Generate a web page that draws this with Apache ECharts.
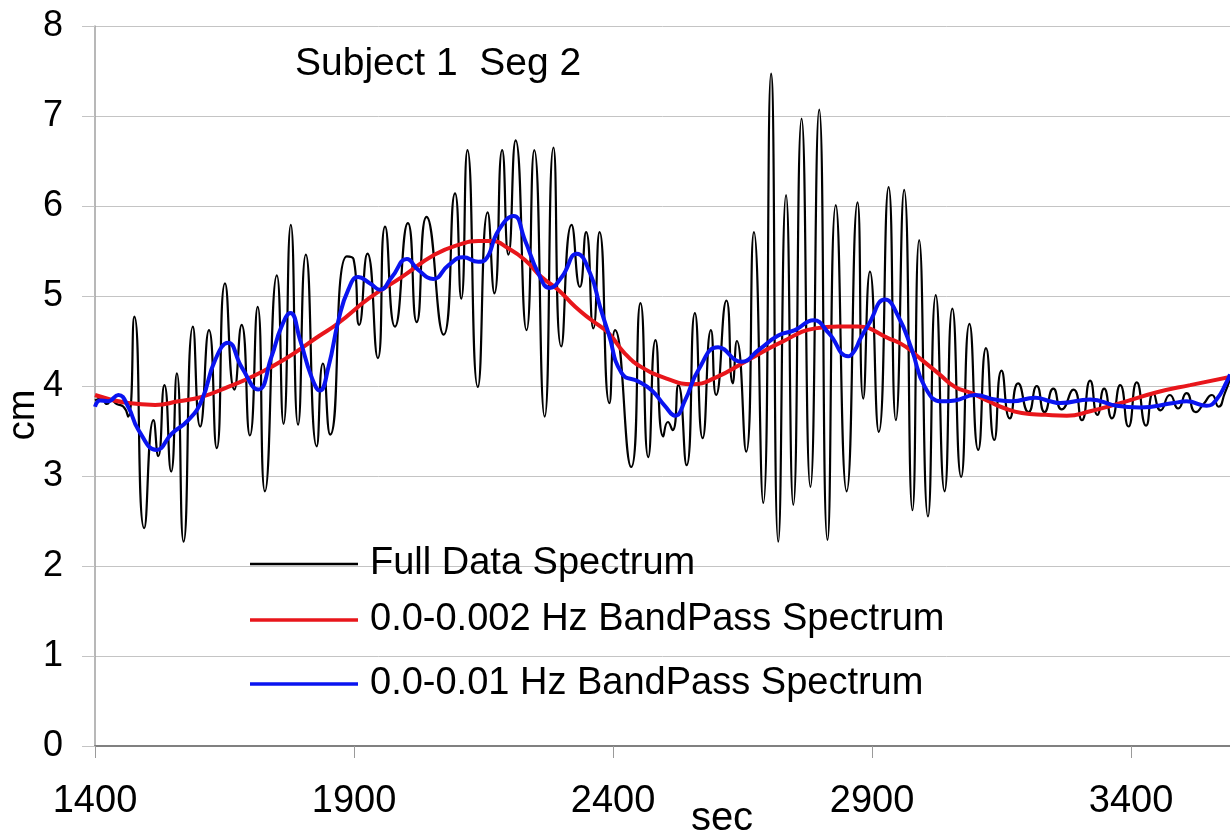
<!DOCTYPE html>
<html>
<head>
<meta charset="utf-8">
<script src="https://cdn.jsdelivr.net/npm/echarts@6/dist/echarts.min.js"></script>
<style>
  html, body { margin: 0; padding: 0; background: #fff; }
  #chart { width: 1230px; height: 832px; }
</style>
</head>
<body>
<div id="chart"></div>
<script>
// ---- Data ----
var titleText = 'Subject 1  Seg 2';
var xTickValues = [1400, 1900, 2400, 2900, 3400];
var yTickValues = [0, 1, 2, 3, 4, 5, 6, 7, 8];
var seriesNames = ['Full Data Spectrum', '0.0-0.002 Hz BandPass Spectrum', '0.0-0.01 Hz BandPass Spectrum'];

var fullSec = [1400,1413,1423,1432,1442,1455,1464,1476,1495,1513,1522,1534,1547,1558,1571,1589,1603,1620,1635,1651,
  1669,1683,1699,1714,1728,1751,1764,1778,1792,1807,1828,1840,1854,1886,1899,1910,1926,1946,1960,1979,
  2004,2021,2040,2073,2095,2107,2119,2139,2158,2171,2186,2198,2212,2233,2248,2268,2285,2300,2320,2336,
  2348,2362,2374,2393,2404,2435,2453,2468,2482,2497,2506,2515,2526,2542,2558,2573,2589,2599,2619,2631,
  2639,2657,2672,2690,2705,2719,2734,2748,2764,2781,2798,2814,2830,2851,2872,2883,2896,2913,2932,2946,
  2962,2978,2991,3008,3023,3040,3055,3072,3088,3105,3120,3136,3150,3166,3182,3202,3218,3233,3250,3266,
  3289,3305,3321,3335,3348,3363,3379,3395,3411,3429,3443,3457,3475,3491,3507,3525,3540,3556,3569,3581,3591];
var fullCm = [3.84,3.86,3.80,3.84,3.80,3.77,3.66,4.77,2.42,3.62,3.22,4.01,3.05,4.14,2.27,4.66,3.55,4.62,3.31,5.14,
  3.96,4.68,3.45,4.88,2.83,5.23,3.58,5.79,3.57,5.46,3.33,4.25,3.46,5.44,5.41,4.68,5.47,4.31,5.77,4.66,
  5.81,4.71,5.88,4.57,6.14,4.97,6.62,3.99,5.93,5.03,6.62,5.46,6.73,4.62,6.62,3.66,6.65,4.44,5.79,5.10,
  5.71,4.64,5.71,3.81,4.62,3.10,4.92,3.21,4.51,3.44,3.60,3.51,4.01,3.12,4.81,3.42,4.62,3.90,4.95,4.03,
  4.50,3.27,5.71,2.70,7.47,2.27,6.12,2.68,6.97,2.88,7.07,2.29,6.01,2.83,6.04,3.86,5.27,3.49,6.21,3.62,
  6.18,2.62,5.62,2.55,5.01,2.83,4.86,2.99,4.69,3.29,4.42,3.40,4.17,3.64,4.03,3.71,4.00,3.71,3.97,3.74,
  3.96,3.62,4.06,3.68,3.97,3.64,4.01,3.55,4.04,3.56,3.92,3.73,3.90,3.75,3.92,3.71,3.80,3.90,3.77,3.92,4.08];

var lowSec = [1400,1464,1516,1561,1606,1657,1709,1767,1831,1870,1928,1992,2056,2108,2140,2166,2198,2230,2262,2294,
  2327,2359,2391,2423,2455,2505,2552,2597,2661,2726,2790,2835,2872,2932,2964,2996,3028,3060,3092,3125,
  3157,3189,3235,3276,3321,3379,3450,3514,3591];
var lowCm = [3.90,3.81,3.79,3.83,3.88,3.99,4.12,4.30,4.55,4.70,4.97,5.21,5.46,5.58,5.61,5.61,5.53,5.40,5.21,5.07,
  4.88,4.73,4.59,4.36,4.21,4.08,4.02,4.09,4.29,4.49,4.64,4.66,4.66,4.53,4.44,4.29,4.14,3.99,3.92,3.83,
  3.75,3.70,3.68,3.67,3.72,3.81,3.93,4.01,4.10];

var midSec = [1400,1410,1425,1445,1464,1484,1519,1548,1580,1606,1632,1657,1683,1715,1741,1760,1777,1796,1818,1834,
  1851,1870,1889,1908,1931,1950,1973,2002,2024,2053,2082,2111,2140,2153,2179,2208,2230,2256,2278,2301,
  2330,2356,2375,2391,2417,2449,2475,2500,2520,2539,2565,2603,2648,2681,2719,2751,2787,2816,2854,2867,
  2877,2893,2925,2951,2977,3002,3034,3060,3099,3137,3170,3215,3244,3263,3321,3372,3417,3482,3507,3546,
  3565,3585,3591];
var midCm = [3.77,3.84,3.83,3.90,3.77,3.51,3.29,3.47,3.62,3.84,4.29,4.48,4.21,3.96,4.33,4.66,4.81,4.51,4.10,3.95,
  4.22,4.73,5.07,5.21,5.14,5.07,5.21,5.41,5.29,5.19,5.34,5.43,5.38,5.40,5.73,5.89,5.62,5.25,5.09,5.21,
  5.47,5.25,4.88,4.59,4.14,4.05,3.95,3.78,3.67,3.84,4.18,4.43,4.27,4.40,4.56,4.62,4.73,4.59,4.33,4.40,
  4.52,4.68,4.96,4.77,4.40,3.99,3.83,3.84,3.90,3.85,3.83,3.87,3.83,3.81,3.85,3.78,3.76,3.81,3.83,3.78,
  3.85,4.05,4.13];

function zip(xs, ys) { return xs.map(function (x, i) { return [x, ys[i]]; }); }

var FONT = '"Liberation Sans", Arial, sans-serif';
var chart = echarts.init(document.getElementById('chart'), null, { renderer: 'canvas' });

function legendFor(name, lineY, h) {
  return {
    data: [name],
    left: 250,
    top: lineY - 21,
    orient: 'horizontal',
    icon: 'rect',
    itemWidth: 108,
    itemHeight: h,
    selectedMode: false,
    padding: 0,
    textStyle: { fontFamily: FONT, fontSize: 38, color: '#000', padding: [0, 0, 0, 7] }
  };
}

var option = {
  backgroundColor: '#ffffff',
  animation: false,
  title: {
    text: titleText,
    left: 295,
    top: 45,
    padding: 0,
    textStyle: { fontFamily: FONT, fontSize: 39, fontWeight: 'normal', color: '#000' }
  },
  legend: [
    legendFor(seriesNames[0], 566, 2.5),
    legendFor(seriesNames[1], 622, 3.5),
    legendFor(seriesNames[2], 686, 3.5)
  ],
  grid: { left: 95, right: 0, top: 26, bottom: 86, containLabel: false },
  xAxis: {
    type: 'value',
    min: xTickValues[0],
    max: 3591,
    interval: 500,
    axisLine: { show: true, lineStyle: { color: '#808080', width: 2 } },
    axisTick: { show: true, length: 12, lineStyle: { color: '#9a9a9a', width: 1 } },
    axisLabel: {
      margin: 37,
      showMaxLabel: false,
      fontFamily: FONT, fontSize: 38, color: '#000',
      formatter: function (v) { return xTickValues.indexOf(v) >= 0 ? String(v) : ''; }
    },
    splitLine: { show: false }
  },
  yAxis: {
    type: 'value',
    min: yTickValues[0],
    max: yTickValues[yTickValues.length - 1],
    interval: 1,
    axisLine: { show: true, lineStyle: { color: '#a0a0a0', width: 1.5 } },
    axisTick: { show: true, length: 13, lineStyle: { color: '#c4c4c4', width: 1 } },
    axisLabel: { margin: 32, fontFamily: FONT, fontSize: 36, color: '#000' },
    splitLine: { show: true, lineStyle: { color: '#c4c4c4', width: 1 } }
  },
  graphic: [
    { type: 'text', x: 24, y: 415, rotation: Math.PI / 2,
      style: { text: 'cm', fontFamily: FONT, fontSize: 38, fill: '#000', align: 'center', verticalAlign: 'middle' } },
    { type: 'text', x: 722, y: 819,
      style: { text: 'sec', fontFamily: FONT, fontSize: 40, fill: '#000', align: 'center', verticalAlign: 'middle' } }
  ],
  series: [
    {
      name: seriesNames[0], type: 'line', data: zip(fullSec, fullCm),
      smooth: 0.6, showSymbol: false, symbol: 'none', z: 2,
      lineStyle: { color: '#000000', width: 2.2 }, itemStyle: { color: '#000000' }
    },
    {
      name: seriesNames[1], type: 'line', data: zip(lowSec, lowCm),
      smooth: true, showSymbol: false, symbol: 'none', z: 3,
      lineStyle: { color: '#e8161b', width: 4 }, itemStyle: { color: '#e8161b' }
    },
    {
      name: seriesNames[2], type: 'line', data: zip(midSec, midCm),
      smooth: true, showSymbol: false, symbol: 'none', z: 4,
      lineStyle: { color: '#0a14f0', width: 4 }, itemStyle: { color: '#0a14f0' }
    }
  ]
};
chart.setOption(option);
</script>
</body>
</html>
